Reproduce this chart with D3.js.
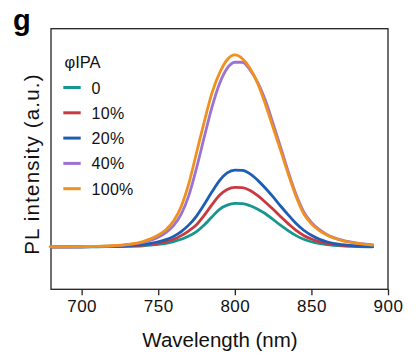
<!DOCTYPE html>
<html>
<head>
<meta charset="utf-8">
<script src="https://cdn.jsdelivr.net/npm/d3@7"></script>
<style>
  html, body { margin: 0; padding: 0; background: #fff; }
  svg { display: block; font-family: "Liberation Sans", Arial, sans-serif; }
</style>
</head>
<body>
<svg id="chart" width="419" height="355"></svg>
<script>
// ---- data ----
const wavelengths = [680, 690, 700, 710, 720, 730, 740, 745, 750, 755, 760, 765, 770, 775, 780, 785, 790, 795, 800, 805, 810, 815, 820, 825, 830, 835, 840, 845, 850, 855, 860, 870, 880, 890];
const ipa0   = [0, 0, 0, 0, 0.001, 0.002, 0.005, 0.008, 0.012, 0.018, 0.027, 0.039, 0.056, 0.079, 0.113, 0.155, 0.195, 0.217, 0.226, 0.225, 0.214, 0.196, 0.172, 0.142, 0.111, 0.083, 0.058, 0.039, 0.026, 0.017, 0.011, 0.004, 0.001, 0];
const ipa10  = [0, 0, 0, 0.001, 0.002, 0.004, 0.008, 0.012, 0.018, 0.026, 0.039, 0.058, 0.083, 0.115, 0.163, 0.218, 0.268, 0.298, 0.310, 0.308, 0.293, 0.266, 0.232, 0.195, 0.156, 0.119, 0.085, 0.059, 0.040, 0.027, 0.018, 0.007, 0.003, 0.001];
const ipa20  = [0, 0, 0, 0.001, 0.002, 0.005, 0.012, 0.018, 0.026, 0.037, 0.054, 0.079, 0.114, 0.160, 0.220, 0.285, 0.345, 0.385, 0.400, 0.398, 0.380, 0.346, 0.305, 0.260, 0.211, 0.165, 0.121, 0.086, 0.060, 0.040, 0.026, 0.011, 0.004, 0.001];
const ipa40  = [0, 0, 0.001, 0.002, 0.004, 0.010, 0.022, 0.034, 0.050, 0.074, 0.110, 0.170, 0.268, 0.410, 0.570, 0.725, 0.850, 0.930, 0.962, 0.962, 0.921, 0.856, 0.762, 0.642, 0.516, 0.388, 0.272, 0.182, 0.127, 0.090, 0.064, 0.034, 0.019, 0.010];
const ipa100 = [0, 0, 0.001, 0.002, 0.005, 0.012, 0.027, 0.041, 0.061, 0.089, 0.134, 0.210, 0.330, 0.490, 0.650, 0.800, 0.905, 0.975, 1.000, 0.980, 0.930, 0.850, 0.742, 0.622, 0.500, 0.376, 0.262, 0.172, 0.120, 0.085, 0.061, 0.032, 0.018, 0.009];

const seriesNames  = ["0", "10%", "20%", "40%", "100%"];
const seriesValues = [ipa0, ipa10, ipa20, ipa40, ipa100];
const seriesColors = ["#17958f", "#c93a40", "#1e5db4", "#9b73d2", "#f0901e"];

const xTicks = [700, 750, 800, 850, 900];
const xDomain = [680, 900];
const yDomain = [-0.222, 1.137];

const legendTitle = "φIPA";
const xTitle = "Wavelength (nm)";
const yTitle = "PL intensity (a.u.)";
const panelLabel = "g";

// ---- layout ----
const plot = { left: 51, top: 28.7, right: 388, bottom: 289.3 };
const svg = d3.select("#chart");

const x = d3.scaleLinear().domain(xDomain).range([plot.left, plot.right]);
const y = d3.scaleLinear().domain(yDomain).range([plot.bottom, plot.top]);

// frame
svg.append("rect")
  .attr("x", plot.left).attr("y", plot.top)
  .attr("width", plot.right - plot.left).attr("height", plot.bottom - plot.top)
  .attr("fill", "none").attr("stroke", "#222").attr("stroke-width", 1.3);

// bottom axis
const xAxis = d3.axisBottom(x).tickValues(xTicks).tickSize(6).tickPadding(5).tickFormat(d3.format("d"));
const gx = svg.append("g").attr("transform", `translate(0,${plot.bottom})`).call(xAxis);
gx.select(".domain").remove();
gx.selectAll(".tick line").attr("stroke", "#222").attr("stroke-width", 1.3);
gx.selectAll(".tick text")
  .attr("fill", "#111")
  .style("font-family", '"Liberation Sans", Arial, sans-serif')
  .style("font-size", "17px")
  .style("letter-spacing", "0.5px");

// lines
const line = d3.line()
  .x((d, i) => x(wavelengths[i]))
  .y(d => y(d))
  .curve(d3.curveMonotoneX);

svg.append("g").selectAll("path")
  .data(seriesValues)
  .join("path")
  .attr("d", d => line(d))
  .attr("fill", "none")
  .attr("stroke", (d, i) => seriesColors[i])
  .attr("stroke-width", 2.8)
  .attr("stroke-linejoin", "round")
  .attr("stroke-linecap", "round");

// legend
const lg = svg.append("g");
lg.append("text")
  .attr("x", 64.5).attr("y", 68.3)
  .attr("fill", "#111")
  .style("font-size", "16.5px")
  .text(legendTitle);

const legendRows = lg.selectAll("g.row")
  .data(seriesNames)
  .join("g")
  .attr("class", "row")
  .attr("transform", (d, i) => `translate(0,${87.5 + i * 25.3})`);
legendRows.append("line")
  .attr("x1", 63.3).attr("x2", 80.7)
  .attr("y1", 0).attr("y2", 0)
  .attr("stroke", (d, i) => seriesColors[i])
  .attr("stroke-width", 3);
legendRows.append("text")
  .attr("x", 91.5).attr("y", 6)
  .attr("fill", "#111")
  .style("font-size", "16px")
  .style("letter-spacing", "0.3px")
  .text(d => d);

// axis titles
svg.append("text")
  .attr("x", (plot.left + plot.right) / 2 + 0.5)
  .attr("y", 346.7)
  .attr("text-anchor", "middle")
  .attr("fill", "#111")
  .style("font-size", "20.5px")
  .text(xTitle);

svg.append("text")
  .attr("transform", `translate(38.5,164) rotate(-90)`)
  .attr("text-anchor", "middle")
  .attr("fill", "#111")
  .style("font-size", "20.5px")
  .style("letter-spacing", "1.2px")
  .text(yTitle);

// panel label
svg.append("text")
  .attr("x", 13).attr("y", 29.5)
  .attr("fill", "#000")
  .style("font-size", "29px")
  .style("font-weight", "bold")
  .text(panelLabel);
</script>
</body>
</html>
